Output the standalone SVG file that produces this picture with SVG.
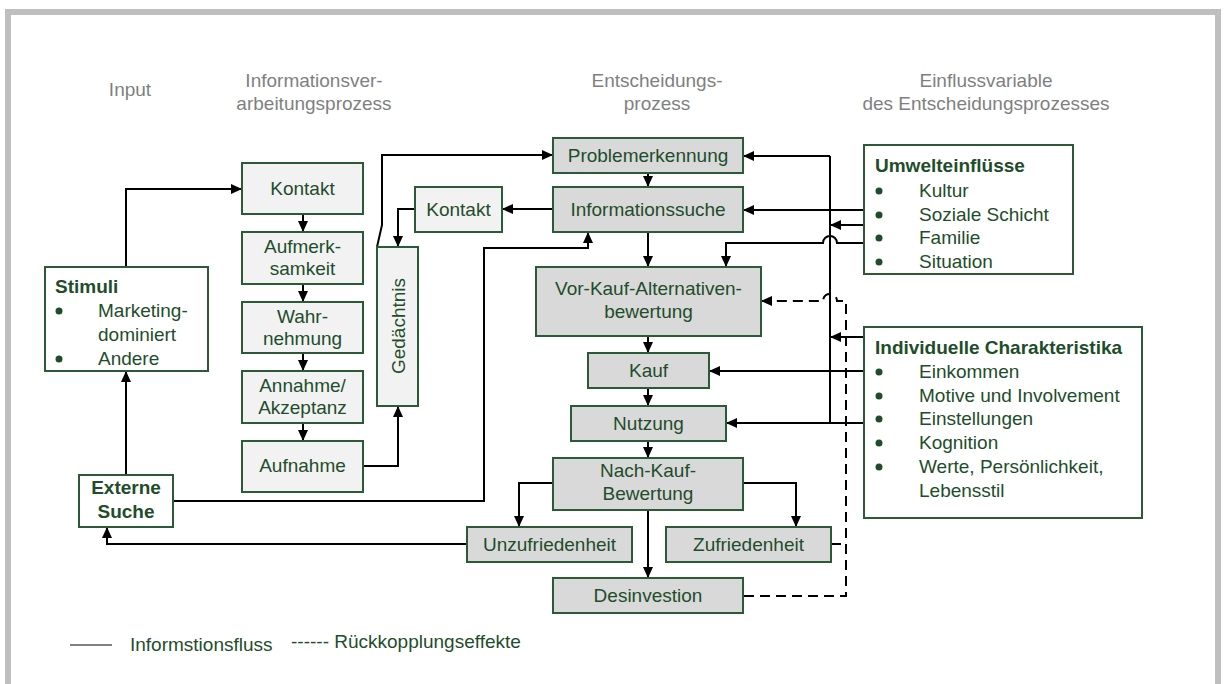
<svg xmlns="http://www.w3.org/2000/svg" width="1226" height="684" viewBox="0 0 1226 684">
<style>
  text{font-family:"Liberation Sans",Arial,sans-serif;font-size:19px;fill:#1e4d2b}
  .hd{fill:#7f7f7f;text-anchor:middle}
  .c{text-anchor:middle}
  .b{font-weight:bold}
  .bx{stroke:#2b5a36;stroke-width:2}
  .info{fill:#f2f2f2}
  .dec{fill:#d9d9d9}
  .wh{fill:#ffffff}
  .ln{fill:none;stroke:#000;stroke-width:2}
  .ar{marker-end:url(#ah)}
  .dash{fill:none;stroke:#000;stroke-width:2;stroke-dasharray:10,6}
  .bu{fill:#1e4d2b}
</style>
<defs>
  <marker id="ah" viewBox="0 0 11 10" refX="11" refY="5" markerWidth="11" markerHeight="10" markerUnits="userSpaceOnUse" orient="auto">
    <path d="M0,0 L11,5 L0,10 z" fill="#000"/>
  </marker>
</defs>
<rect width="1226" height="684" fill="#fff"/>
<path d="M8,690 V12 H1218 V690" fill="none" stroke="#bfbfbf" stroke-width="6"/>

<g id="headers">
  <text class="hd" x="130" y="96">Input</text>
  <text class="hd" x="314" y="87">Informationsver-</text>
  <text class="hd" x="314" y="110">arbeitungsprozess</text>
  <text class="hd" x="657" y="87">Entscheidungs-</text>
  <text class="hd" x="657" y="110">prozess</text>
  <text class="hd" x="986" y="87">Einflussvariable</text>
  <text class="hd" x="986" y="110">des Entscheidungsprozesses</text>
</g>

<g id="connectors">
  <path class="ln ar" d="M126,267 V189 H242"/>
  <path class="ln ar" d="M126,475 V371"/>
  <path class="ln ar" d="M467,544 H107 V527"/>
  <path class="ln ar" d="M173,501 H484 V248 H588 V232"/>
  <path class="ln ar" d="M363,466 H398 V406"/>
  <path class="ln ar" d="M415,209 H398 V247"/>
  <path class="ln ar" d="M553,209 H502"/>
  <path class="ln ar" d="M377,247 L382,225 V155 H553"/>
  <path class="ln ar" d="M303,214 V232"/>
  <path class="ln ar" d="M303,284 V302"/>
  <path class="ln ar" d="M303,353 V371"/>
  <path class="ln ar" d="M303,423 V441"/>
  <path class="ln ar" d="M648,173 V187"/>
  <path class="ln ar" d="M648,232 V267"/>
  <path class="ln ar" d="M648,336 V353"/>
  <path class="ln ar" d="M648,388 V406"/>
  <path class="ln ar" d="M648,441 V458"/>
  <path class="ln ar" d="M553,483 H519 V527"/>
  <path class="ln ar" d="M743,483 H796 V527"/>
  <path class="ln ar" d="M648,510 V578"/>
  <path class="ln" d="M830,423 V156"/>
  <path class="ln ar" d="M830,156 H743"/>
  <path class="ln ar" d="M864,210 H743"/>
  <path class="ln ar" d="M864,225 H830"/>
  <path class="ln ar" d="M864,243 H837 A7,7 0 0 0 823,243 H726 V267"/>
  <path class="ln ar" d="M864,337 H830"/>
  <path class="ln ar" d="M864,371 H709"/>
  <path class="ln ar" d="M864,423 H726"/>
  <path class="dash" d="M831,544 H846"/>
  <path class="dash ar" d="M744,596 H846 V301 H837 A7,7 0 0 0 823,301 H761"/>
</g>

<g id="stimuli">
  <rect class="bx wh" x="45" y="267" width="163" height="104"/>
  <text class="b" x="55" y="293">Stimuli</text>
  <circle class="bu" cx="59" cy="311" r="3.5"/><text x="98" y="317">Marketing-</text>
  <text x="98" y="341">dominiert</text>
  <circle class="bu" cx="59" cy="359" r="3.5"/><text x="98" y="365">Andere</text>
</g>
<g id="externe-suche">
  <rect class="bx wh" x="79" y="475" width="94" height="52"/>
  <text class="b c" x="126" y="494">Externe</text>
  <text class="b c" x="126" y="518">Suche</text>
</g>

<g id="kontakt1"><rect class="bx info" x="242" y="163" width="121" height="51"/><text class="c" x="302.5" y="195">Kontakt</text></g>
<g id="aufmerksamkeit"><rect class="bx info" x="242" y="232" width="121" height="52"/><text class="c" x="302.5" y="253">Aufmerk-</text><text class="c" x="302.5" y="275">samkeit</text></g>
<g id="wahrnehmung"><rect class="bx info" x="242" y="302" width="121" height="51"/><text class="c" x="302.5" y="323">Wahr-</text><text class="c" x="302.5" y="345">nehmung</text></g>
<g id="annahme"><rect class="bx info" x="242" y="371" width="121" height="52"/><text class="c" x="302.5" y="392">Annahme/</text><text class="c" x="302.5" y="414">Akzeptanz</text></g>
<g id="aufnahme"><rect class="bx info" x="242" y="441" width="121" height="51"/><text class="c" x="302.5" y="472">Aufnahme</text></g>
<g id="gedaechtnis"><rect class="bx info" x="377" y="247" width="41" height="159"/><text class="c" x="398" y="333" transform="rotate(-90 398 326)">Gedächtnis</text></g>
<g id="kontakt2"><rect class="bx info" x="415" y="187" width="87" height="45"/><text class="c" x="458.5" y="216">Kontakt</text></g>

<g id="problemerkennung"><rect class="bx dec" x="553" y="138" width="190" height="35"/><text class="c" x="648" y="162">Problemerkennung</text></g>
<g id="informationssuche"><rect class="bx dec" x="553" y="187" width="190" height="45"/><text class="c" x="648" y="216">Informationssuche</text></g>
<g id="vorkauf"><rect class="bx dec" x="536" y="267" width="225" height="69"/><text class="c" x="648.5" y="295">Vor-Kauf-Alternativen-</text><text class="c" x="648.5" y="318">bewertung</text></g>
<g id="kauf"><rect class="bx dec" x="588" y="353" width="121" height="35"/><text class="c" x="648.5" y="377">Kauf</text></g>
<g id="nutzung"><rect class="bx dec" x="571" y="406" width="155" height="35"/><text class="c" x="648.5" y="430">Nutzung</text></g>
<g id="nachkauf"><rect class="bx dec" x="553" y="458" width="190" height="52"/><text class="c" x="648" y="477">Nach-Kauf-</text><text class="c" x="648" y="500">Bewertung</text></g>
<g id="unzufriedenheit"><rect class="bx dec" x="467" y="527" width="165" height="35"/><text class="c" x="549.5" y="551">Unzufriedenheit</text></g>
<g id="zufriedenheit"><rect class="bx dec" x="666" y="527" width="165" height="35"/><text class="c" x="748.5" y="551">Zufriedenheit</text></g>
<g id="desinvestion"><rect class="bx dec" x="553" y="578" width="190" height="35"/><text class="c" x="648" y="602">Desinvestion</text></g>

<g id="umwelteinfluesse">
  <rect class="bx wh" x="864" y="145" width="209" height="129"/>
  <text class="b" x="875" y="172">Umwelteinflüsse</text>
  <circle class="bu" cx="879" cy="191" r="3.5"/><text x="919" y="197">Kultur</text>
  <circle class="bu" cx="879" cy="215" r="3.5"/><text x="919" y="221">Soziale Schicht</text>
  <circle class="bu" cx="879" cy="238" r="3.5"/><text x="919" y="244">Familie</text>
  <circle class="bu" cx="879" cy="262" r="3.5"/><text x="919" y="268">Situation</text>
</g>
<g id="individuelle">
  <rect class="bx wh" x="864" y="327" width="278" height="191"/>
  <text class="b" x="875" y="354">Individuelle Charakteristika</text>
  <circle class="bu" cx="879" cy="372" r="3.5"/><text x="919" y="378">Einkommen</text>
  <circle class="bu" cx="879" cy="396" r="3.5"/><text x="919" y="402">Motive und Involvement</text>
  <circle class="bu" cx="879" cy="419" r="3.5"/><text x="919" y="425">Einstellungen</text>
  <circle class="bu" cx="879" cy="443" r="3.5"/><text x="919" y="449">Kognition</text>
  <circle class="bu" cx="879" cy="467" r="3.5"/><text x="919" y="473">Werte, Persönlichkeit,</text>
  <text x="919" y="497">Lebensstil</text>
</g>

<g id="legend">
  <path d="M70,645 H112" stroke="#808080" stroke-width="2"/>
  <text x="130" y="651">Informstionsfluss</text>
  <text x="291" y="648">------ Rückkopplungseffekte</text>
</g>
</svg>
